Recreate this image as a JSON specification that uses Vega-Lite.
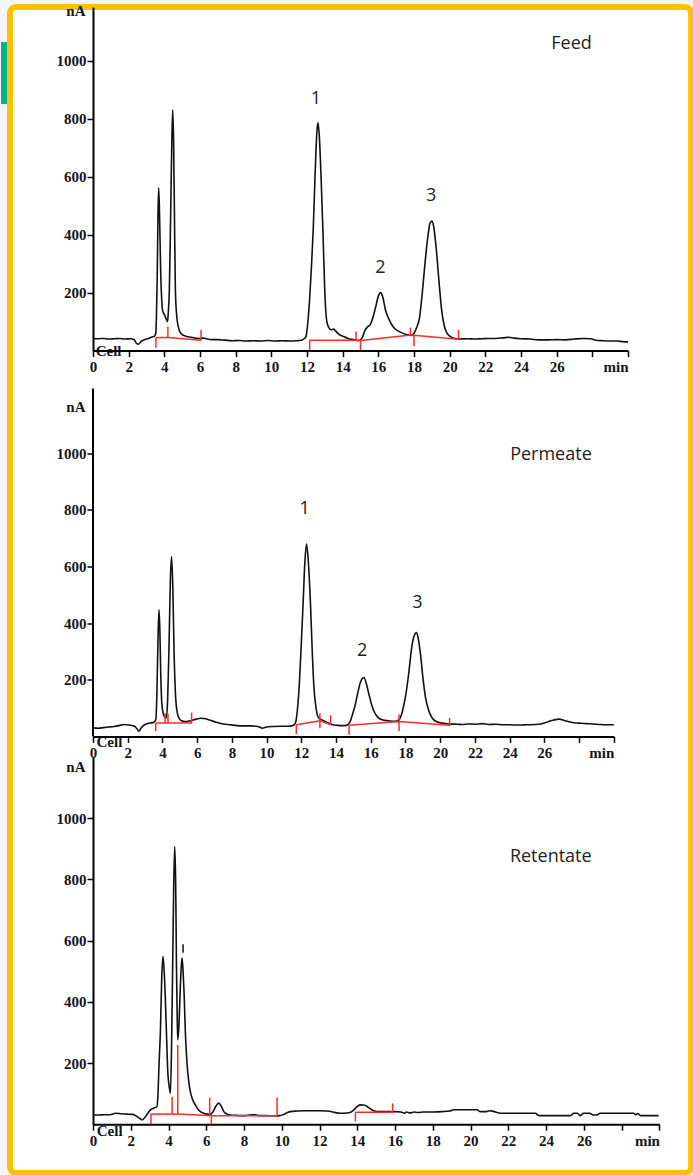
{
  "$schema": "https://vega.github.io/schema/vega-lite/v6.json",
  "background": "#f2f6fc",
  "padding": {"left": 0, "top": 3, "right": 0, "bottom": 0},
  "autosize": {"type": "pad"},
  "bounds": "flush",
  "spacing": 20.5,
  "config": {
    "view": {"stroke": null},
    "axis": {
      "grid": false, "domainColor": "#000", "domainWidth": 2, "tickColor": "#000", "tickWidth": 1.5, "tickSize": 6,
      "labelFont": "Liberation Serif", "labelFontWeight": "bold", "labelFontSize": 15, "labelColor": "#151520",
      "titleFont": "Liberation Serif", "titleFontWeight": "bold", "titleFontSize": 15, "titleColor": "#151520"
    },
    "axisX": {"labelPadding": 3},
    "axisY": {"labelPadding": 1, "format": "d"}
  },
  "datasets": {
    "feed": [
      {"t":0,"v":42},{"t":0.3,"v":41},{"t":0.6,"v":42},{"t":0.9,"v":40},{"t":1.2,"v":41},{"t":1.5,"v":42},{"t":1.8,"v":40},{"t":2.1,"v":41},{"t":2.3,"v":38},{"t":2.45,"v":24},{"t":2.55,"v":22},{"t":2.7,"v":32},{"t":2.9,"v":38},{"t":3.1,"v":42},{"t":3.3,"v":47},{"t":3.45,"v":50},{"t":3.52,"v":60},{"t":3.55,"v":100},{"t":3.6,"v":250},{"t":3.64,"v":450},{"t":3.68,"v":562},{"t":3.72,"v":500},{"t":3.76,"v":380},{"t":3.8,"v":260},{"t":3.85,"v":180},{"t":3.9,"v":140},{"t":4.0,"v":125},{"t":4.1,"v":110},{"t":4.18,"v":100},{"t":4.22,"v":130},{"t":4.28,"v":206},{"t":4.35,"v":450},{"t":4.42,"v":720},{"t":4.47,"v":831},{"t":4.52,"v":720},{"t":4.57,"v":450},{"t":4.62,"v":210},{"t":4.68,"v":130},{"t":4.75,"v":92},{"t":4.85,"v":68},{"t":4.95,"v":58},{"t":5.1,"v":52},{"t":5.3,"v":48},{"t":5.6,"v":45},{"t":5.9,"v":42},{"t":6.2,"v":43},{"t":6.4,"v":40},{"t":6.7,"v":38},{"t":7.0,"v":38},{"t":7.4,"v":36},{"t":7.8,"v":34},{"t":8.2,"v":35},{"t":8.6,"v":33},{"t":9.0,"v":34},{"t":9.4,"v":33},{"t":9.8,"v":35},{"t":10.2,"v":33},{"t":10.6,"v":34},{"t":11.0,"v":33},{"t":11.4,"v":34},{"t":11.7,"v":36},{"t":11.85,"v":42},{"t":11.95,"v":50},{"t":12.05,"v":100},{"t":12.15,"v":180},{"t":12.25,"v":290},{"t":12.35,"v":420},{"t":12.45,"v":600},{"t":12.55,"v":750},{"t":12.62,"v":787},{"t":12.7,"v":730},{"t":12.8,"v":580},{"t":12.9,"v":400},{"t":13.0,"v":200},{"t":13.1,"v":105},{"t":13.2,"v":82},{"t":13.35,"v":72},{"t":13.5,"v":74},{"t":13.6,"v":68},{"t":13.8,"v":56},{"t":14.0,"v":50},{"t":14.3,"v":42},{"t":14.6,"v":38},{"t":14.9,"v":35},{"t":15.1,"v":45},{"t":15.25,"v":70},{"t":15.4,"v":82},{"t":15.55,"v":90},{"t":15.7,"v":115},{"t":15.85,"v":150},{"t":16.0,"v":188},{"t":16.12,"v":200},{"t":16.25,"v":185},{"t":16.4,"v":140},{"t":16.6,"v":108},{"t":16.8,"v":85},{"t":17.0,"v":72},{"t":17.3,"v":62},{"t":17.6,"v":55},{"t":17.85,"v":52},{"t":18.0,"v":60},{"t":18.15,"v":80},{"t":18.3,"v":110},{"t":18.45,"v":190},{"t":18.6,"v":290},{"t":18.75,"v":380},{"t":18.9,"v":440},{"t":19.0,"v":447},{"t":19.1,"v":430},{"t":19.25,"v":350},{"t":19.4,"v":240},{"t":19.55,"v":140},{"t":19.7,"v":85},{"t":19.85,"v":60},{"t":20.05,"v":48},{"t":20.3,"v":42},{"t":20.6,"v":40},{"t":21.0,"v":41},{"t":21.4,"v":40},{"t":21.8,"v":41},{"t":22.2,"v":42},{"t":22.6,"v":42},{"t":23.0,"v":44},{"t":23.3,"v":46},{"t":23.6,"v":43},{"t":24.0,"v":41},{"t":24.5,"v":40},{"t":25.0,"v":37},{"t":25.5,"v":37},{"t":26.0,"v":38},{"t":26.5,"v":37},{"t":27.0,"v":40},{"t":27.5,"v":42},{"t":27.9,"v":41},{"t":28.2,"v":36},{"t":28.6,"v":34},{"t":29.0,"v":33},{"t":29.4,"v":33},{"t":29.7,"v":31},{"t":30.0,"v":30}
    ],
    "perm": [
      {"t":0,"v":30},{"t":0.3,"v":29},{"t":0.6,"v":31},{"t":0.9,"v":33},{"t":1.2,"v":35},{"t":1.5,"v":38},{"t":1.8,"v":42},{"t":2.1,"v":40},{"t":2.4,"v":36},{"t":2.55,"v":25},{"t":2.65,"v":18},{"t":2.75,"v":28},{"t":2.9,"v":38},{"t":3.1,"v":44},{"t":3.3,"v":47},{"t":3.5,"v":50},{"t":3.62,"v":60},{"t":3.68,"v":150},{"t":3.74,"v":330},{"t":3.8,"v":447},{"t":3.85,"v":380},{"t":3.9,"v":230},{"t":3.96,"v":120},{"t":4.05,"v":80},{"t":4.15,"v":68},{"t":4.22,"v":65},{"t":4.3,"v":130},{"t":4.38,"v":320},{"t":4.46,"v":560},{"t":4.53,"v":635},{"t":4.6,"v":520},{"t":4.67,"v":300},{"t":4.75,"v":150},{"t":4.85,"v":85},{"t":4.95,"v":65},{"t":5.1,"v":55},{"t":5.3,"v":52},{"t":5.6,"v":55},{"t":5.9,"v":60},{"t":6.2,"v":64},{"t":6.5,"v":62},{"t":6.8,"v":56},{"t":7.1,"v":50},{"t":7.5,"v":44},{"t":7.9,"v":41},{"t":8.3,"v":38},{"t":8.7,"v":37},{"t":9.1,"v":37},{"t":9.5,"v":35},{"t":9.75,"v":29},{"t":10.0,"v":33},{"t":10.4,"v":35},{"t":10.8,"v":36},{"t":11.2,"v":36},{"t":11.5,"v":38},{"t":11.65,"v":45},{"t":11.75,"v":80},{"t":11.87,"v":170},{"t":12.0,"v":330},{"t":12.1,"v":465},{"t":12.2,"v":610},{"t":12.3,"v":679},{"t":12.4,"v":620},{"t":12.53,"v":465},{"t":12.63,"v":300},{"t":12.73,"v":170},{"t":12.83,"v":110},{"t":12.92,"v":76},{"t":13.05,"v":62},{"t":13.2,"v":58},{"t":13.3,"v":55},{"t":13.45,"v":50},{"t":13.6,"v":46},{"t":13.8,"v":41},{"t":14.1,"v":39},{"t":14.4,"v":38},{"t":14.6,"v":39},{"t":14.8,"v":50},{"t":14.94,"v":76},{"t":15.1,"v":110},{"t":15.23,"v":147},{"t":15.4,"v":190},{"t":15.52,"v":205},{"t":15.61,"v":208},{"t":15.75,"v":185},{"t":15.9,"v":147},{"t":16.05,"v":112},{"t":16.19,"v":88},{"t":16.4,"v":68},{"t":16.66,"v":59},{"t":17.0,"v":55},{"t":17.43,"v":53},{"t":17.65,"v":60},{"t":17.82,"v":88},{"t":18.0,"v":140},{"t":18.2,"v":229},{"t":18.35,"v":310},{"t":18.5,"v":355},{"t":18.64,"v":367},{"t":18.75,"v":340},{"t":18.87,"v":288},{"t":19.0,"v":210},{"t":19.16,"v":135},{"t":19.35,"v":90},{"t":19.54,"v":65},{"t":19.8,"v":52},{"t":20.12,"v":47},{"t":20.5,"v":44},{"t":21.0,"v":43},{"t":21.3,"v":42},{"t":21.6,"v":44},{"t":22.0,"v":43},{"t":22.4,"v":45},{"t":22.8,"v":42},{"t":23.2,"v":43},{"t":23.6,"v":41},{"t":24.0,"v":41},{"t":24.5,"v":40},{"t":25.0,"v":41},{"t":25.5,"v":42},{"t":25.8,"v":44},{"t":26.2,"v":52},{"t":26.5,"v":57},{"t":26.84,"v":61},{"t":27.2,"v":55},{"t":27.6,"v":49},{"t":28.0,"v":47},{"t":28.4,"v":45},{"t":28.8,"v":44},{"t":29.2,"v":42},{"t":29.6,"v":41},{"t":30.0,"v":41}
    ],
    "ret": [
      {"t":0,"v":30},{"t":0.3,"v":30},{"t":0.6,"v":31},{"t":0.9,"v":31},{"t":1.2,"v":36},{"t":1.5,"v":34},{"t":1.8,"v":33},{"t":2.1,"v":32},{"t":2.3,"v":26},{"t":2.5,"v":18},{"t":2.6,"v":14},{"t":2.75,"v":22},{"t":2.9,"v":35},{"t":3.04,"v":47},{"t":3.2,"v":52},{"t":3.39,"v":58},{"t":3.44,"v":96},{"t":3.5,"v":200},{"t":3.57,"v":303},{"t":3.64,"v":480},{"t":3.71,"v":548},{"t":3.77,"v":500},{"t":3.83,"v":412},{"t":3.9,"v":280},{"t":3.96,"v":172},{"t":4.03,"v":125},{"t":4.1,"v":101},{"t":4.16,"v":250},{"t":4.22,"v":521},{"t":4.28,"v":800},{"t":4.33,"v":907},{"t":4.38,"v":780},{"t":4.42,"v":521},{"t":4.46,"v":350},{"t":4.49,"v":276},{"t":4.55,"v":320},{"t":4.62,"v":440},{"t":4.68,"v":520},{"t":4.72,"v":543},{"t":4.77,"v":500},{"t":4.83,"v":420},{"t":4.89,"v":303},{"t":4.98,"v":200},{"t":5.07,"v":140},{"t":5.16,"v":105},{"t":5.25,"v":85},{"t":5.42,"v":63},{"t":5.55,"v":50},{"t":5.69,"v":41},{"t":5.85,"v":36},{"t":6.04,"v":33},{"t":6.2,"v":32},{"t":6.35,"v":40},{"t":6.5,"v":58},{"t":6.66,"v":69},{"t":6.8,"v":58},{"t":6.93,"v":41},{"t":7.1,"v":33},{"t":7.28,"v":30},{"t":7.6,"v":29},{"t":8.0,"v":28},{"t":8.4,"v":31},{"t":8.6,"v":31},{"t":8.8,"v":28},{"t":9.2,"v":28},{"t":9.6,"v":27},{"t":9.9,"v":28},{"t":10.1,"v":32},{"t":10.3,"v":38},{"t":10.46,"v":41},{"t":10.8,"v":43},{"t":11.2,"v":44},{"t":11.6,"v":44},{"t":12.0,"v":44},{"t":12.4,"v":43},{"t":12.7,"v":40},{"t":12.9,"v":37},{"t":13.1,"v":36},{"t":13.3,"v":36},{"t":13.6,"v":38},{"t":13.8,"v":46},{"t":14.0,"v":58},{"t":14.16,"v":63},{"t":14.4,"v":62},{"t":14.6,"v":54},{"t":14.87,"v":44},{"t":15.2,"v":41},{"t":15.6,"v":41},{"t":16.0,"v":41},{"t":16.3,"v":40},{"t":16.5,"v":36},{"t":16.6,"v":40},{"t":16.8,"v":37},{"t":17.0,"v":40},{"t":17.2,"v":38},{"t":17.5,"v":40},{"t":18.0,"v":40},{"t":18.5,"v":41},{"t":18.9,"v":43},{"t":19.1,"v":47},{"t":19.5,"v":47},{"t":20.0,"v":47},{"t":20.34,"v":47},{"t":20.5,"v":41},{"t":20.8,"v":41},{"t":21.0,"v":44},{"t":21.2,"v":42},{"t":21.6,"v":36},{"t":22.0,"v":36},{"t":22.5,"v":36},{"t":23.0,"v":36},{"t":23.43,"v":36},{"t":23.61,"v":28},{"t":24.0,"v":28},{"t":24.5,"v":28},{"t":25.0,"v":28},{"t":25.29,"v":28},{"t":25.46,"v":36},{"t":25.65,"v":36},{"t":25.81,"v":28},{"t":25.99,"v":36},{"t":26.3,"v":36},{"t":26.5,"v":30},{"t":26.7,"v":30},{"t":26.85,"v":36},{"t":27.05,"v":36},{"t":27.5,"v":36},{"t":28.0,"v":36},{"t":28.4,"v":36},{"t":28.64,"v":36},{"t":28.75,"v":31},{"t":28.85,"v":35},{"t":29.0,"v":28},{"t":29.5,"v":28},{"t":29.96,"v":28}
    ],
    "feedRed": [
      {"t1":3.53,"v1":45,"t2":4.2,"v2":45},{"t1":4.2,"v1":45,"t2":6.06,"v2":36},{"t1":3.53,"v1":45,"t2":3.53,"v2":10},{"t1":4.2,"v1":45,"t2":4.2,"v2":82},{"t1":6.06,"v1":36,"t2":6.06,"v2":72},
      {"t1":12.15,"v1":36,"t2":14.75,"v2":36},{"t1":12.15,"v1":36,"t2":12.15,"v2":0},{"t1":14.75,"v1":36,"t2":14.75,"v2":66},{"t1":14.75,"v1":36,"t2":15.0,"v2":35},{"t1":15.0,"v1":35,"t2":15.0,"v2":0},
      {"t1":15.0,"v1":35,"t2":17.83,"v2":54},{"t1":17.8,"v1":54,"t2":17.8,"v2":79},{"t1":18.0,"v1":52,"t2":18.0,"v2":16},{"t1":17.83,"v1":54,"t2":20.5,"v2":39},{"t1":20.5,"v1":39,"t2":20.5,"v2":72}
    ],
    "permRed": [
      {"t1":3.61,"v1":47,"t2":5.68,"v2":47},{"t1":3.61,"v1":47,"t2":3.61,"v2":18},{"t1":4.15,"v1":47,"t2":4.15,"v2":82},{"t1":4.32,"v1":47,"t2":4.32,"v2":80},{"t1":5.68,"v1":45,"t2":5.68,"v2":84},
      {"t1":11.71,"v1":41,"t2":13.09,"v2":55},{"t1":13.09,"v1":55,"t2":13.69,"v2":41},{"t1":11.71,"v1":41,"t2":11.71,"v2":8},{"t1":13.07,"v1":82,"t2":13.07,"v2":29},{"t1":13.69,"v1":75,"t2":13.69,"v2":40},
      {"t1":14.75,"v1":39,"t2":17.63,"v2":53},{"t1":17.63,"v1":53,"t2":20.54,"v2":39},{"t1":14.75,"v1":39,"t2":14.75,"v2":6},{"t1":17.63,"v1":78,"t2":17.63,"v2":19},{"t1":20.54,"v1":65,"t2":20.54,"v2":37}
    ],
    "retRed": [
      {"t1":3.07,"v1":33,"t2":4.54,"v2":33},{"t1":4.54,"v1":33,"t2":6.25,"v2":28},{"t1":6.25,"v1":28,"t2":9.75,"v2":28},{"t1":3.07,"v1":33,"t2":3.07,"v2":0},{"t1":4.19,"v1":90,"t2":4.19,"v2":33},{"t1":4.49,"v1":259,"t2":4.49,"v2":33},{"t1":6.18,"v1":87,"t2":6.18,"v2":28},{"t1":6.27,"v1":28,"t2":6.27,"v2":0},{"t1":9.75,"v1":87,"t2":9.75,"v2":28},
      {"t1":13.9,"v1":39,"t2":15.87,"v2":39},{"t1":13.9,"v1":39,"t2":13.9,"v2":9},{"t1":15.87,"v1":68,"t2":15.87,"v2":37}
    ],
    "feedLab": [{"t":12.5,"v":869,"label":"1"},{"t":16.12,"v":284,"label":"2"},{"t":18.96,"v":534,"label":"3"}],
    "permLab": [{"t":12.19,"v":802,"label":"1"},{"t":15.51,"v":300,"label":"2"},{"t":18.68,"v":470,"label":"3"}]
  },
  "vconcat": [
    {
      "width": 535, "height": 343.6,
      "layer": [
        {
          "data": {"values": [{}]},
          "mark": {"type": "rect", "fill": "#00B388"},
          "encoding": {"x": {"datum": -5.16}, "x2": {"datum": -4.823}, "y": {"datum": 1065}, "y2": {"datum": 851}}
        },
        {
          "data": {"values": [{}]},
          "mark": {"type": "rect", "fill": "white", "stroke": "#FFC000", "strokeWidth": 6, "cornerRadius": 6},
          "encoding": {"x": {"datum": -4.655}, "x2": {"datum": 33.54}, "y": {"datum": 1186}, "y2": {"datum": -2838.7}}
        },
        {
          "data": {"name": "feed"},
          "mark": {"type": "line", "color": "#111", "strokeWidth": 1.6, "interpolate": "monotone"},
          "encoding": {
            "x": {"field": "t", "type": "quantitative", "scale": {"domain": [0, 30], "nice": false, "zero": false},
              "axis": {"title": null, "zindex": 1, "tickCount": 15, "labelExpr": "datum.value == 28 ? '' : datum.value == 30 ? 'min' : datum.label", "labelAlign": {"condition": {"test": "datum.value == 30", "value": "right"}, "value": "center"}, "labelOverlap": false, "labelFlush": false}},
            "y": {"field": "v", "type": "quantitative", "scale": {"domain": [0, 1186], "nice": false, "zero": false},
              "axis": {"title": "nA", "zindex": 1, "format": "d", "values": [200,400,600,800,1000], "titleAngle": 0, "titleAlign": "right", "titleBaseline": "middle", "titleX": -8, "titleY": 3.5}}
          }
        },
        {
          "data": {"name": "feedRed"},
          "mark": {"type": "rule", "color": "#FF2A2A", "strokeWidth": 1.5},
          "encoding": {"x": {"field": "t1", "type": "quantitative"}, "y": {"field": "v1", "type": "quantitative"}, "x2": {"field": "t2"}, "y2": {"field": "v2"}}
        },
        {
          "data": {"name": "feedLab"},
          "mark": {"type": "text", "font": "Open Sans", "fontSize": 18, "color": "#222", "baseline": "middle"},
          "encoding": {"x": {"field": "t", "type": "quantitative"}, "y": {"field": "v", "type": "quantitative"}, "text": {"field": "label"}}
        },
        {
          "data": {"values": [{}]},
          "mark": {"type": "text", "font": "Open Sans", "fontSize": 18, "color": "#222", "align": "right", "baseline": "middle"},
          "encoding": {"x": {"datum": 27.97}, "y": {"datum": 1059}, "text": {"value": "Feed"}}
        },
        {
          "data": {"values": [{}]},
          "mark": {"type": "text", "font": "Liberation Serif", "fontWeight": "bold", "fontSize": 15, "color": "#151520", "align": "left", "baseline": "middle"},
          "encoding": {"x": {"datum": 0.15}, "y": {"datum": 0}, "text": {"value": "Cell"}}
        }
      ]
    },
    {
      "width": 520.8, "height": 364.9,
      "layer": [
        {
          "data": {"name": "perm"},
          "mark": {"type": "line", "color": "#111", "strokeWidth": 1.6, "interpolate": "monotone"},
          "encoding": {
            "x": {"field": "t", "type": "quantitative", "scale": {"domain": [0, 30], "nice": false, "zero": false},
              "axis": {"title": null, "tickCount": 15, "labelExpr": "datum.value == 28 ? '' : datum.value == 30 ? 'min' : datum.label", "labelAlign": {"condition": {"test": "datum.value == 30", "value": "right"}, "value": "center"}, "labelOverlap": false, "labelFlush": false}},
            "y": {"field": "v", "type": "quantitative", "scale": {"domain": [0, 1288], "nice": false, "zero": false},
              "axis": {"title": "nA", "domain": false, "format": "d", "values": [200,400,600,800,1000], "titleAngle": 0, "titleAlign": "right", "titleBaseline": "middle", "titleX": -8, "titleY": 35}}
          }
        },
        {
          "data": {"values": [{}]},
          "mark": {"type": "rule", "color": "#000", "strokeWidth": 2},
          "encoding": {"x": {"datum": 0}, "y": {"datum": 0}, "y2": {"datum": 1228}}
        },
        {
          "data": {"name": "permRed"},
          "mark": {"type": "rule", "color": "#FF2A2A", "strokeWidth": 1.5},
          "encoding": {"x": {"field": "t1", "type": "quantitative"}, "y": {"field": "v1", "type": "quantitative"}, "x2": {"field": "t2"}, "y2": {"field": "v2"}}
        },
        {
          "data": {"name": "permLab"},
          "mark": {"type": "text", "font": "Open Sans", "fontSize": 18, "color": "#222", "baseline": "middle"},
          "encoding": {"x": {"field": "t", "type": "quantitative"}, "y": {"field": "v", "type": "quantitative"}, "text": {"field": "label"}}
        },
        {
          "data": {"values": [{}]},
          "mark": {"type": "text", "font": "Open Sans", "fontSize": 18, "color": "#222", "align": "right", "baseline": "middle"},
          "encoding": {"x": {"datum": 28.73}, "y": {"datum": 992}, "text": {"value": "Permeate"}}
        },
        {
          "data": {"values": [{}]},
          "mark": {"type": "text", "font": "Liberation Serif", "fontWeight": "bold", "fontSize": 15, "color": "#151520", "align": "left", "baseline": "middle"},
          "encoding": {"x": {"datum": 0.2}, "y": {"datum": -21}, "text": {"value": "Cell"}}
        }
      ]
    },
    {
      "width": 566.4, "height": 367.2,
      "layer": [
        {
          "data": {"name": "ret"},
          "mark": {"type": "line", "color": "#111", "strokeWidth": 1.6, "interpolate": "monotone"},
          "encoding": {
            "x": {"field": "t", "type": "quantitative", "scale": {"domain": [0, 30], "nice": false, "zero": false},
              "axis": {"title": null, "tickCount": 15, "labelExpr": "datum.value == 28 ? '' : datum.value == 30 ? 'min' : datum.label", "labelAlign": {"condition": {"test": "datum.value == 30", "value": "right"}, "value": "center"}, "labelOverlap": false, "labelFlush": false}},
            "y": {"field": "v", "type": "quantitative", "scale": {"domain": [0, 1200], "nice": false, "zero": false},
              "axis": {"title": "nA", "format": "d", "values": [200,400,600,800,1000], "titleAngle": 0, "titleAlign": "right", "titleBaseline": "middle", "titleX": -8, "titleY": 9.5}}
          }
        },
        {
          "data": {"name": "retRed"},
          "mark": {"type": "rule", "color": "#FF2A2A", "strokeWidth": 1.5},
          "encoding": {"x": {"field": "t1", "type": "quantitative"}, "y": {"field": "v1", "type": "quantitative"}, "x2": {"field": "t2"}, "y2": {"field": "v2"}}
        },
        {
          "data": {"values": [{}]},
          "mark": {"type": "rule", "color": "#111", "strokeWidth": 1.5},
          "encoding": {"x": {"datum": 4.77}, "y": {"datum": 560}, "y2": {"datum": 588}}
        },
        {
          "data": {"values": [{}]},
          "mark": {"type": "text", "font": "Open Sans", "fontSize": 18, "color": "#222", "align": "right", "baseline": "middle"},
          "encoding": {"x": {"datum": 26.41}, "y": {"datum": 873}, "text": {"value": "Retentate"}}
        },
        {
          "data": {"values": [{}]},
          "mark": {"type": "text", "font": "Liberation Serif", "fontWeight": "bold", "fontSize": 15, "color": "#151520", "align": "left", "baseline": "middle"},
          "encoding": {"x": {"datum": 0.2}, "y": {"datum": -20.6}, "text": {"value": "Cell"}}
        }
      ]
    }
  ]
}
